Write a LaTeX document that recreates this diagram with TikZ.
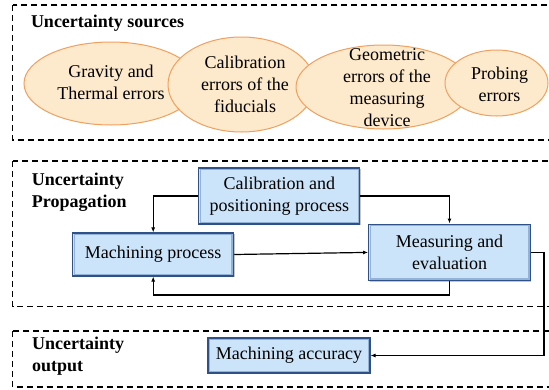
\documentclass[tikz,border=0pt]{standalone}
\usepackage{fontspec}
\setmainfont{Liberation Serif}
\usetikzlibrary{shapes.geometric,arrows.meta,calc,shadows}
\definecolor{procfill}{HTML}{CCE4F9}
\definecolor{procedge}{HTML}{2F5187}
\definecolor{procband}{HTML}{93B2D6}
\definecolor{srcfill}{HTML}{FDE9CB}
\definecolor{srcedge}{HTML}{F0A05E}
\begin{document}
\begin{tikzpicture}[x=1pt,y=-1pt,
  every node/.style={inner sep=0pt, font=\fontsize{18}{21.5}\selectfont},
  region/.style={draw=black, line width=1.3pt, dash pattern=on 6pt off 4pt},
  heading/.style={anchor=north west, align=left, font=\fontsize{18}{22}\selectfont\bfseries},
  source/.style={ellipse, draw=srcedge, fill=srcfill, line width=1pt},
  srctext/.style={align=center, font=\fontsize{18}{22}\selectfont},
  process/.style={rectangle, draw=procedge, fill=procfill, line width=1.1pt, align=center,
    drop shadow={shadow xshift=0.8pt, shadow yshift=-0.9pt, fill=black!50, opacity=0.45},
    path picture={\draw[procband, line width=1.6pt]
      ([shift={(1.6pt,-1.6pt)}]path picture bounding box.north west) rectangle
      ([shift={(-1.6pt,1.6pt)}]path picture bounding box.south east);}},
  flow/.style={draw=black, line width=1.2pt, -{Latex[length=5pt,width=4pt]}}
]
\useasboundingbox (0,0) rectangle (549,389);
\clip (0,0) rectangle (549,389);

% dashed regions
\draw[region] (12.7,5) rectangle (570,140);
\draw[region] (12.7,161) rectangle (570,306.5);
\draw[region] (12.7,331) rectangle (570,387);

\node[heading] (hsrc) at (30.8,15) {Uncertainty sources};
\node[heading] (hprop) at (31.7,172.7) {Uncertainty\\Propagation};
\node[heading] (hout) at (32,336.7) {Uncertainty\\output};

% uncertainty sources
\node[source, minimum width=174pt, minimum height=83pt] (e1) at (111,83.5) {};
\node[srctext] (t1) at (111,82) {Gravity and\\Thermal errors};
\node[source, minimum width=147pt, minimum height=95pt] (e2) at (241.5,84.5) {};
\node[srctext] (t2) at (245,84) {Calibration\\errors of the\\fiducials};
\node[source, minimum width=175pt, minimum height=84pt] (e3) at (383.5,87) {};
\node[srctext] (t3) at (387,88) {Geometric\\errors of the\\measuring\\device};
\node[source, minimum width=103pt, minimum height=66pt] (e4) at (496.5,83) {};
\node[srctext] (t4) at (499.5,84) {Probing\\errors};

% propagation chain
\node[process, minimum width=161pt, minimum height=56pt] (calib) at (279.4,196) {Calibration and\\positioning process};
\node[process, minimum width=161pt, minimum height=43pt] (mach) at (153.2,254.5) {Machining process};
\node[process, minimum width=161.6pt, minimum height=56.7pt] (meas) at (449.5,252.4) {Measuring and\\evaluation};
\node[process, minimum width=162pt, minimum height=35pt] (acc) at (289,355.5) {Machining accuracy};

\coordinate (loopy) at (0,295);
\coordinate (outx) at (544,0);

\draw[flow] (calib.west) -| (mach.north);
\draw[flow] (calib.east) -| (meas.north);
\draw[flow] (mach.east) -- (meas.west);
\draw[flow] (meas.south) |- (mach.south |- loopy) -- (mach.south);
\draw[flow] (meas.east) -- (meas.east -| outx) |- (acc.east);
\end{tikzpicture}
\end{document}
